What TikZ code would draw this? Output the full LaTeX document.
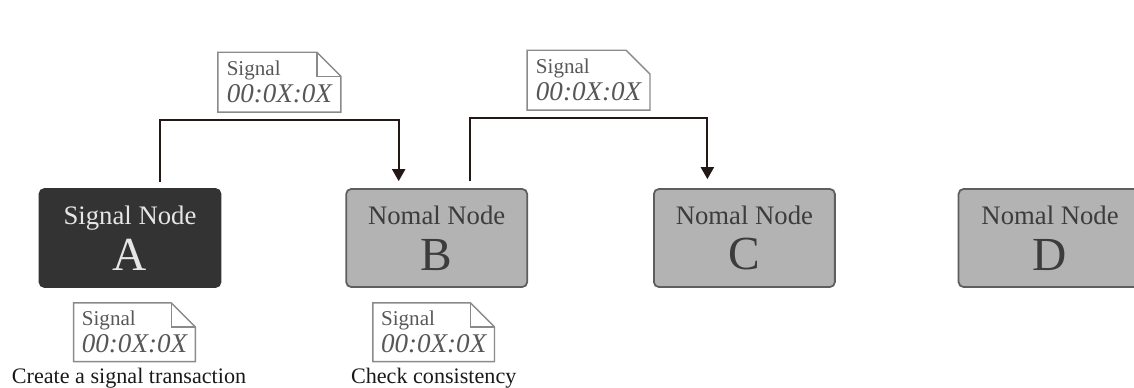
\documentclass[tikz,border=0pt]{standalone}
\usepackage{fontspec}
\setmainfont{Liberation Serif}
\usepackage{xcolor}
\usepackage{tikz}
\usetikzlibrary{positioning,calc,arrows.meta}

\definecolor{sigfill}{HTML}{333333}
\definecolor{sigtext}{HTML}{E6E6E6}
\definecolor{nomfill}{HTML}{B3B3B3}
\definecolor{nomedge}{HTML}{5E5E5E}
\definecolor{nomtext}{HTML}{3C3C3C}
\definecolor{flowcol}{HTML}{231815}
\definecolor{docedge}{HTML}{8A8A8A}
\definecolor{doctext}{HTML}{575757}

\tikzset{
  signode/.style={draw=sigfill, fill=sigfill, text=sigtext, rounded corners=2.8pt, line width=1pt,
    minimum width=3.62cm, minimum height=1.96cm, align=center, font=\fontsize{15.2}{26}\selectfont},
  nomnode/.style={signode, fill=nomfill, draw=nomedge, text=nomtext},
  flow/.style={line width=1.1pt, draw=flowcol, -{Triangle[width=7.4pt,length=6.8pt]}},
  doc/.style={minimum width=2.42cm, minimum height=1.16cm, inner sep=0pt, align=left, text=doctext,
    font=\fontsize{12}{15.4}\selectfont},
  docline/.style={draw=docedge, line width=0.8pt},
  caption/.style={inner sep=0pt, text=black!90, font=\fontsize{12.6}{14}\selectfont}
}

% document outline with folded corner
\newcommand{\docframe}[1]{%
  \draw[docline] (#1.south west) -- (#1.north west) -- ([xshift=-0.48cm]#1.north east)
    -- ([yshift=-0.48cm]#1.north east) -- (#1.south east) -- cycle;
  \draw[docline] ([xshift=-0.48cm]#1.north east) |- ([yshift=-0.48cm]#1.north east);
}
% document outline, cut corner only
\newcommand{\doccut}[1]{%
  \draw[docline] (#1.south west) -- (#1.north west) -- ([xshift=-0.48cm]#1.north east)
    -- ([yshift=-0.48cm]#1.north east) -- (#1.south east) -- cycle;
}
\newcommand{\sigtext}{Signal\\{\fontsize{15.4}{15.4}\selectfont\itshape 00:0X:0X}}

\begin{document}
\begin{tikzpicture}[x=0.02cm,y=-0.02cm]
    \useasboundingbox (0,0) rectangle (1134,387);
    % nodes
    \node[signode] (a) at (130,238) {Signal Node\\{\fontsize{27}{27}\selectfont A}};
    \node[nomnode, right=2.48cm of a] (b) {Nomal Node\\{\fontsize{27}{27}\selectfont B}};
    \node[nomnode, right=2.5cm of b] (c) {Nomal Node\\{\fontsize{27}{27}\selectfont C}};
    \node[nomnode, right=2.44cm of c, minimum width=3.66cm] (d) {Nomal Node\\{\fontsize{27}{27}\selectfont D}};
    % transfers
    \draw[flow] ($(a.north)+(30,-6)$) -- ++(0,-62) -| node[doc, pos=0.25, above=0.16cm] (s1) {\sigtext} ($(b.north)+(-38,-7)$);
    \draw[flow] ($(b.north)+(33,-7)$) -- ++(0,-63) -| node[doc, pos=0.25, above=0.16cm] (s2) {\sigtext} ($(c.north)+(-37,-9)$);
    \docframe{s1}
    \doccut{s2}
    % local copies
    \node[doc, below=0.3cm of a, xshift=0.09cm] (ma) {\sigtext};
    \node[doc, below=0.3cm of b, xshift=-0.06cm] (mb) {\sigtext};
    \docframe{ma}
    \docframe{mb}
    \node[caption, below=0.12cm of ma, xshift=-0.11cm] (ta) {Create a signal transaction};
    \node[caption, below=0.12cm of mb] (tb) {Check consistency};
\end{tikzpicture}
\end{document}
